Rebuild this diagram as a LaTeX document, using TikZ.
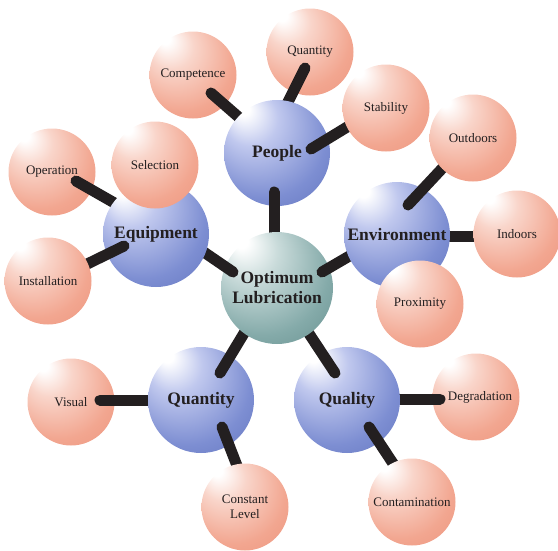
\documentclass[tikz,border=0pt]{standalone}
\usepackage{fontspec}
\setmainfont{Liberation Serif}
\usetikzlibrary{calc}

\definecolor{ink}{HTML}{231F20}
\definecolor{salmonlite}{HTML}{F9D5CA}
\definecolor{salmonbody}{HTML}{F2A690}
\definecolor{salmonedge}{HTML}{E98A72}
\definecolor{bluelite}{HTML}{C0C8EE}
\definecolor{bluebody}{HTML}{7D8ED2}
\definecolor{blueedge}{HTML}{5366B3}
\definecolor{teallite}{HTML}{C9DBDA}
\definecolor{tealbody}{HTML}{84AAA9}
\definecolor{tealedge}{HTML}{557F7E}

\pgfdeclareradialshading{salmonball}{\pgfpoint{-17bp}{22bp}}{color(0bp)=(white); color(3bp)=(white); color(13bp)=(salmonlite); color(30bp)=(salmonbody); color(50bp)=(salmonedge)}
\pgfdeclareradialshading{blueball}{\pgfpoint{-17bp}{22bp}}{color(0bp)=(white); color(3bp)=(white); color(13bp)=(bluelite); color(30bp)=(bluebody); color(50bp)=(blueedge)}
\pgfdeclareradialshading{tealball}{\pgfpoint{-17bp}{22bp}}{color(0bp)=(white); color(3bp)=(white); color(13bp)=(teallite); color(30bp)=(tealbody); color(50bp)=(tealedge)}

\pgfdeclarelayer{sph0}
\pgfdeclarelayer{bar0}
\pgfdeclarelayer{sph1}
\pgfdeclarelayer{bar1}
\pgfdeclarelayer{sph2}
\pgfdeclarelayer{bar2}
\pgfdeclarelayer{sph3}
\pgfdeclarelayer{bar3}
\pgfsetlayers{sph0,bar0,sph1,bar1,sph2,bar2,sph3,bar3,main}

\begin{document}
\begin{tikzpicture}[x=1pt,y=-1pt]
\tikzset{ball/.style = {shape=circle,inner sep=0pt,text=ink,align=center}}
\tikzset{hub/.style = {ball,shading=tealball,minimum size=112pt,font=\fontsize{17.5}{20}\selectfont\bfseries}}
\tikzset{topic/.style = {ball,shading=blueball,minimum size=106pt,font=\fontsize{17.5}{20}\selectfont\bfseries}}
\tikzset{item/.style = {ball,shading=salmonball,minimum size=87pt,font=\fontsize{13}{15}\selectfont}}
\tikzset{bar/.style = {draw=ink,line width=11pt,line cap=round}}
\useasboundingbox (0,0) rectangle (558,550);
% spheres, back to front
\begin{pgfonlayer}{sph0}
\node[item] (qty)   at (310,52)  {Quantity};
\node[item] (comp)  at (193,75)  {Competence};
\node[item] (vis)   at (71,402)  {Visual};
\node[item] (degr)  at (476,397) {\hspace*{8pt}Degradation};
\node[item] (oper)  at (52,172)  {Operation};
\end{pgfonlayer}
\begin{pgfonlayer}{sph1}
\node[topic] (people) at (277,153) {People};
\node[topic] (quant)  at (201,400) {Quantity};
\node[topic] (qual)   at (347,400) {Quality};
\end{pgfonlayer}
\begin{pgfonlayer}{sph2}
\node[hub]  (lube)   at (277,288) {Optimum\\Lubrication};
\node[item] (stab)   at (386,108) {Stability};
\node[item] (level)  at (245,507) {Constant\\Level};
\node[item] (contam) at (412,502) {Contamination};
\end{pgfonlayer}
\begin{pgfonlayer}{sph3}
\node[topic] (equip) at (156,234) {Equipment};
\node[topic] (env)   at (397,235) {Environment};
\end{pgfonlayer}
\node[item] (inst) at (48,281)  {Installation};
\node[item] (sel)  at (155,165) {Selection};
\node[item] (outd) at (473,138) {Outdoors};
\node[item] (prox) at (420,304) {Proximity};
\node[item] (indo) at (517,234) {Indoors};
% bars
\begin{pgfonlayer}{bar0}
\draw[bar] ($(qty)+(-5,16)$)  -- ($(people)+(5,-39)$);
\draw[bar] ($(comp)+(18,18)$) -- ($(people)+(-27,-26)$);
\draw[bar] ($(vis)+(29,-2)$)  -- ($(quant)+(-41,0)$);
\draw[bar] ($(degr)+(-36,2)$) -- ($(qual)+(41,-1)$);
\draw[bar] ($(oper)+(24,9)$)  -- ($(equip)+(-31,-25)$);
\end{pgfonlayer}
\begin{pgfonlayer}{bar1}
\draw[bar] ($(people)+(34,-4)$) -- ($(stab)+(-29,13)$);
\draw[bar] ($(people)+(-3,39)$) -- ($(lube)+(-3,-43)$);
\draw[bar] ($(quant)+(19,-27)$) -- ($(lube)+(-25,32)$);
\draw[bar] ($(qual)+(-12,-27)$) -- ($(lube)+(23,32)$);
\draw[bar] ($(quant)+(21,27)$)  -- ($(level)+(-4,-31)$);
\draw[bar] ($(qual)+(22,27)$)   -- ($(contam)+(-12,-28)$);
\end{pgfonlayer}
\begin{pgfonlayer}{bar2}
\draw[bar] ($(lube)+(-44,-16)$) -- ($(equip)+(39,12)$);
\draw[bar] ($(lube)+(45,-16)$)  -- ($(env)+(-39,16)$);
\draw[bar] ($(env)+(40,1)$)     -- ($(indo)+(-30,2)$);
\end{pgfonlayer}
\begin{pgfonlayer}{bar3}
\draw[bar] ($(env)+(11,-30)$)  -- ($(outd)+(-22,21)$);
\draw[bar] ($(equip)+(-32,12)$) -- ($(inst)+(31,-13)$);
\end{pgfonlayer}
\end{tikzpicture}
\end{document}
